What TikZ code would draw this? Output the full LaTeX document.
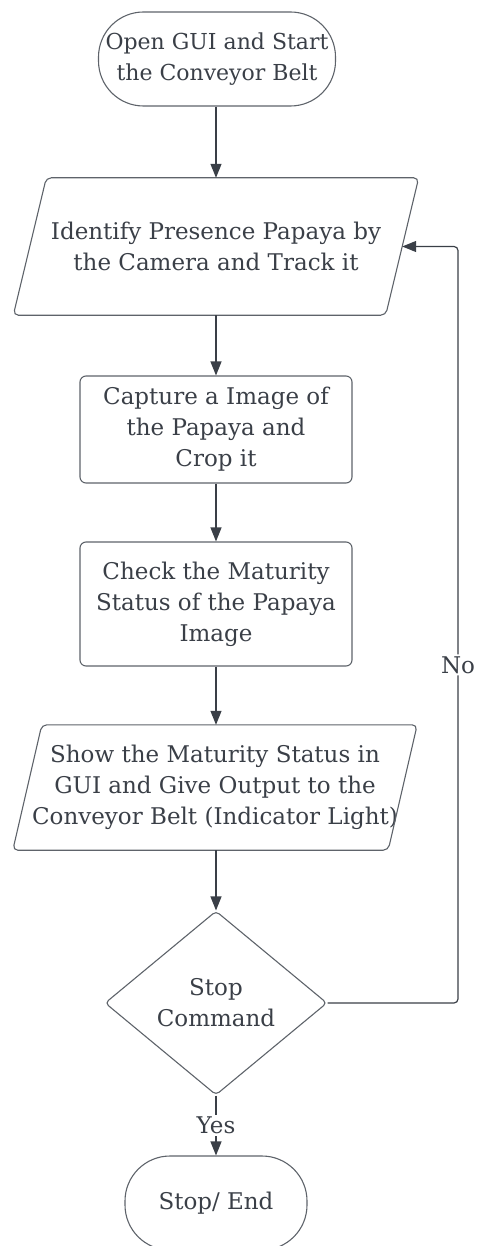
\documentclass[tikz,border=0pt]{standalone}
\usepackage{fontspec}
\setmainfont{DejaVu Serif}
\usetikzlibrary{shapes.geometric,shapes.misc,arrows.meta}
\definecolor{ink}{HTML}{3A3F47}
\definecolor{edge}{HTML}{5E636A}
\begin{document}
\begin{tikzpicture}[x=1pt,y=-1pt,
  every node/.style={text=ink, font=\fontsize{23}{31}\selectfont, align=center, inner sep=0pt},
  term/.style={rectangle, draw=edge, line width=1.1pt, minimum height=94pt, rounded corners=45pt},
  iobody/.style={rectangle, minimum width=#1},
  ioline/.style={draw=edge, line width=1.1pt, rounded corners=5pt},
  proc/.style={rectangle, draw=edge, line width=1.1pt, rounded corners=6pt, minimum width=272pt},
  dec/.style={diamond, draw=edge, line width=1.1pt, rounded corners=4pt, minimum width=222pt, minimum height=184pt, aspect=1.2},
  conn/.style={draw=ink, line width=1.2pt, -{Triangle[length=14pt,width=11pt]}},
  lbl/.style={fill=white, inner sep=2pt}
]
\useasboundingbox (0,0) rectangle (482,1246);
\clip (0,0) rectangle (482,1246);

\node[term, minimum width=237pt, font=\fontsize{22}{31}\selectfont] (start) at (217,59) {Open GUI and Start\\the Conveyor Belt};
\node[iobody=372pt, minimum height=137pt] (p1) at (216,246.5) {Identify Presence Papaya by\\the Camera and Track it};
\draw[ioline] ([xshift=-16.5pt]p1.south west) -- ([xshift=16.5pt]p1.north west) -- ([xshift=16.5pt]p1.north east) -- ([xshift=-16.5pt]p1.south east) -- cycle;
\node[proc, minimum height=107pt] (r1) at (216,429.5) {Capture a Image of\\the Papaya and\\Crop it};
\node[proc, minimum height=124pt] (r2) at (216,604) {Check the Maturity\\Status of the Papaya\\Image};
\node[iobody=375pt, minimum height=125pt] (p2) at (215,787.5) {Show the Maturity Status in\\GUI and Give Output to the\\Conveyor Belt (Indicator Light)};
\draw[ioline] ([xshift=-14.5pt]p2.south west) -- ([xshift=14.5pt]p2.north west) -- ([xshift=14.5pt]p2.north east) -- ([xshift=-14.5pt]p2.south east) -- cycle;
\node[dec] (d) at (216,1003) {Stop\\Command};
\node[term, minimum width=182pt] (end) at (216,1203) {Stop/ End};

\coordinate (c1) at (458,1003);
\coordinate (c2) at (458,246.5);

\draw[conn] (p1 |- start.south) -- (p1);
\draw[conn] (p1) -- (r1);
\draw[conn] (r1) -- (r2);
\draw[conn] (r2) -- (r2 |- p2.north);
\draw[conn] (r2 |- p2.south) -- (d);
\draw[conn] (d) -- node[lbl, pos=0.5] (yes) {Yes} (end);
\draw[conn, rounded corners=4pt] (d.east) -- (c1) -- node[lbl, pos=0.447] (no) {No} (c2) -- (p1.east);
\end{tikzpicture}
\end{document}
